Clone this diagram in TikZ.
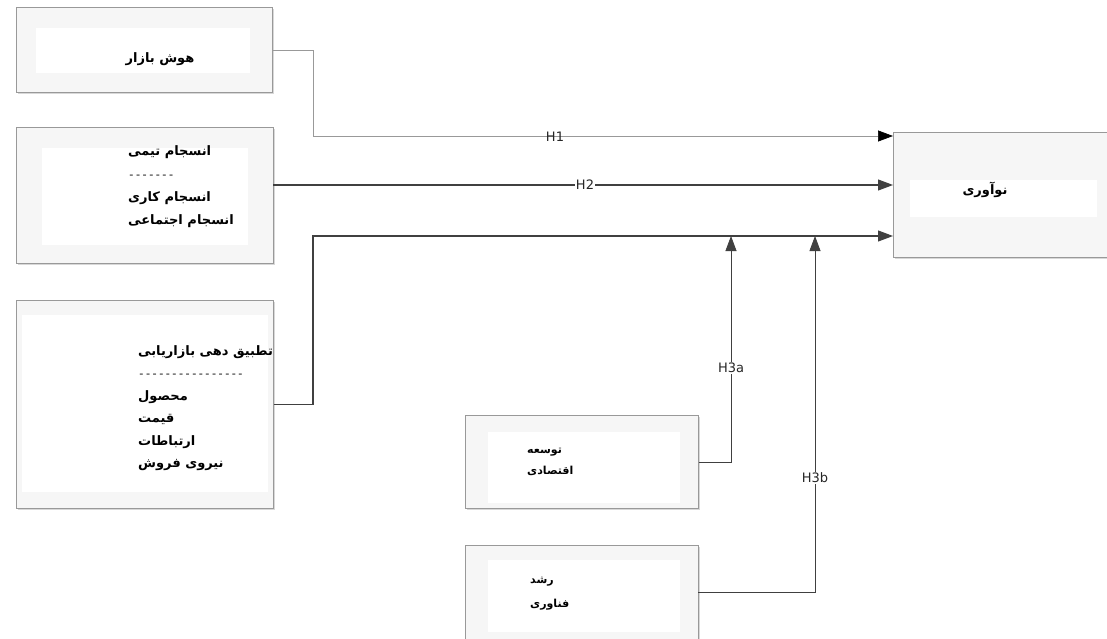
\documentclass[tikz,border=0pt]{standalone}
\usepackage{fontspec}
\usetikzlibrary{arrows.meta,shadows,calc}
\newfontfamily\fa[Script=Arabic]{DejaVu Sans}
\newfontfamily\labf{DejaVu Sans}
\newfontfamily\dashf{Liberation Mono}
\TeXXeTstate=1
\newcommand{\rl}[1]{\beginR #1\endR}
\newcommand{\dashline}[1]{{\dashf\mdseries\fontsize{11}{22}\selectfont #1}}
\tikzset{
  outerbox/.style={draw=gray!80, fill=gray!7, line width=0.8pt, inner sep=0pt, anchor=north west,
    drop shadow={shadow xshift=1.5pt, shadow yshift=-1.5pt, fill=gray!60, opacity=0.5}},
  innerbox/.style={fill=white},
  fatext/.style={font=\fa\bfseries\fontsize{13}{22.5}\selectfont, inner sep=0pt, align=left},
  conn/.style={line width=1.1pt, draw=black!75, -{Triangle[length=15pt,width=11pt]}},
  connthin/.style={line width=0.7pt, draw=gray!80, -{Triangle[length=15pt,width=11pt,color=black,fill=black]}},
  hlab/.style={font=\labf\fontsize{13}{14}\selectfont, fill=white, inner sep=1pt, text=black!85},
}
\begin{document}
\begin{tikzpicture}[x=1pt,y=-1pt]
\useasboundingbox (0,0) rectangle (1107,639);
% boxes
\node[outerbox, minimum width=256pt, minimum height=85pt] (b1) at (16,7) {};
\fill[innerbox] (36,28) rectangle (250,73);
\node[outerbox, minimum width=257pt, minimum height=136pt] (b2) at (16,127) {};
\fill[innerbox] (42,148) rectangle (248,245);
\node[outerbox, minimum width=257pt, minimum height=208pt] (b3) at (16,300) {};
\fill[innerbox] (22,315) rectangle (268,492);
\node[outerbox, minimum width=230pt, minimum height=125pt] (bn) at (893,132) {};
\fill[innerbox] (910,180) rectangle (1097,217);
\node[outerbox, minimum width=233pt, minimum height=93pt] (b4) at (465,415) {};
\fill[innerbox] (488,432) rectangle (680,503);
\node[outerbox, minimum width=233pt, minimum height=100pt] (b5) at (465,545) {};
\fill[innerbox] (488,560) rectangle (680,632);
% texts
\node[fatext] (t1) at (160,59) {\rl{هوش بازار}};
\node[fatext, anchor=north west, font=\fa\bfseries\fontsize{13}{23}\selectfont] (t2) at (128,145) {\rl{انسجام تیمی}\\\dashline{-------}\\\rl{انسجام کاری}\\\rl{انسجام اجتماعی}};
\node[fatext, anchor=north west] (t3) at (138,345) {\rl{تطبیق دهی بازاریابی}\\\dashline{----------------}\\\rl{محصول}\\\rl{قیمت}\\\rl{ارتباطات}\\\rl{نیروی فروش}};
\node[fatext] (tn) at (985,190) {\rl{نوآوری}};
\node[fatext, anchor=north west, font=\fa\bfseries\fontsize{11}{21}\selectfont] (t4) at (527,448) {\rl{توسعه}\\\rl{اقتصادی}};
\node[fatext, anchor=north west, font=\fa\bfseries\fontsize{11}{24}\selectfont] (t5) at (530,577) {\rl{رشد}\\\rl{فناوری}};
% connector coordinates
\coordinate (k1) at (313,136);
\coordinate (k3) at (313,236);
\coordinate (e1) at (893,136);
\coordinate (e2) at (893,185);
\coordinate (e3) at (893,236);
\coordinate (s2) at (273,185);
\coordinate (u4) at (731,236);
\coordinate (u5) at (815,236);
\coordinate (s5) at (698,592);
% connectors
\draw[connthin] (b1.east) -| (k1) -- (e1);
\draw[conn] (s2) -- (e2);
\draw[conn] (b3.east) -| (k3) -- (e3);
\draw[conn, line width=0.8pt] (b4.east) -| (u4);
\draw[conn, line width=0.8pt] (s5) -| (u5);
% labels
\node[hlab, fill=none] (h1) at (555,137) {H1};
\node[hlab] (h2) at (585,185) {H2};
\node[hlab] (h3a) at (731,368) {H3a};
\node[hlab] (h3b) at (815,478) {H3b};
\end{tikzpicture}
\end{document}
